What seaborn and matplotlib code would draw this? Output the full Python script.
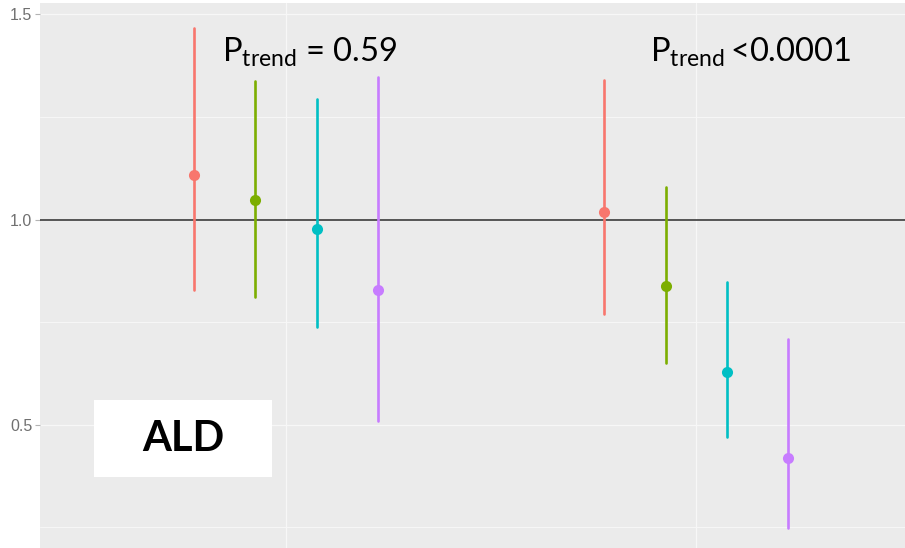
import matplotlib
matplotlib.use("Agg")
import matplotlib.pyplot as plt
from matplotlib.patches import Rectangle
import numpy as np
import pandas as pd
import seaborn as sns

# Odds ratios with 95% confidence intervals, two exposures x four levels
groups = ["Model A", "Model B"]
levels = ["Q1", "Q2", "Q3", "Q4"]
estimate = [[1.108, 1.047, 0.977, 0.829],
            [1.018, 0.838, 0.629, 0.418]]
lower = [[0.829, 0.810, 0.739, 0.508],
         [0.770, 0.649, 0.470, 0.248]]
upper = [[1.466, 1.337, 1.295, 1.347],
         [1.340, 1.079, 0.847, 0.709]]
trend_labels = [r"$\mathregular{P_{trend}}$ = 0.59",
                r"$\mathregular{P_{trend}\,}$<0.0001"]
palette = ["#F8766D", "#7CAE00", "#00BFC4", "#C77CFF"]

# Long form: each cell holds lower, estimate, upper so that the median is the
# point estimate and the full percentile interval is the CI.
rows = []
for gi, g in enumerate(groups):
    for li, lv in enumerate(levels):
        for v in (lower[gi][li], estimate[gi][li], upper[gi][li]):
            rows.append({"group": g, "level": lv, "value": v})
df = pd.DataFrame(rows)

sns.set_theme(style="darkgrid")
plt.rcParams["font.family"] = ["Liberation Sans", "DejaVu Sans"]
plt.rcParams["mathtext.fontset"] = "custom"
plt.rcParams["mathtext.rm"] = "Lato"

fig = plt.figure(figsize=(9.05, 5.48), dpi=100)
ax = fig.add_axes([40 / 905, 0, 865 / 905, 545 / 548])
ax.set_facecolor("#EBEBEB")

sns.pointplot(data=df, x="group", y="value", hue="level", order=groups,
              hue_order=levels, palette=palette, estimator="median",
              errorbar=("pi", 100), dodge=0.448, linestyle="none",
              markers="o", markersize=8, markeredgewidth=0,
              err_kws={"linewidth": 1.9}, legend=False, ax=ax, zorder=3)

ax.axhline(1.0, color="#3A3A3A", linewidth=1.2, zorder=2)

ax.set_xlim(-0.599, 1.508)
ax.set_ylim(0.199, 1.528)
ax.set_yticks([0.5, 1.0, 1.5])
ax.set_yticklabels(["0.5", "1.0", "1.5"])
ax.set_yticks([0.25, 0.75, 1.25], minor=True)
ax.grid(which="major", color="#F7F7F7", linewidth=0.9)
ax.grid(which="minor", axis="y", color="#F7F7F7", linewidth=0.7)
ax.set_xticklabels([])
ax.tick_params(axis="x", length=0)
ax.tick_params(axis="y", which="major", length=3.5, width=0.8, color="#B3B3B3",
               labelcolor="#707070", labelsize=11.5, pad=2, left=True)
ax.tick_params(axis="y", which="minor", length=0)
ax.set_xlabel("")
ax.set_ylabel("")
for s in ax.spines.values():
    s.set_visible(False)

# P for trend annotations
for xpos, lab in zip([-0.156, 0.886], trend_labels):
    ax.text(xpos, 1.384, lab, fontsize=23.5, family="Lato", color="black",
            va="baseline", ha="left", zorder=5)

# Panel label
ax.add_patch(Rectangle((-0.467, 0.372), 0.433, 0.188, facecolor="white",
                       edgecolor="none", zorder=4))
ax.text(-0.2505, 0.466, "ALD", fontsize=30, family="Lato", weight="bold",
        color="black", ha="center", va="center", zorder=5)

fig.savefig("out.png", dpi=100)
